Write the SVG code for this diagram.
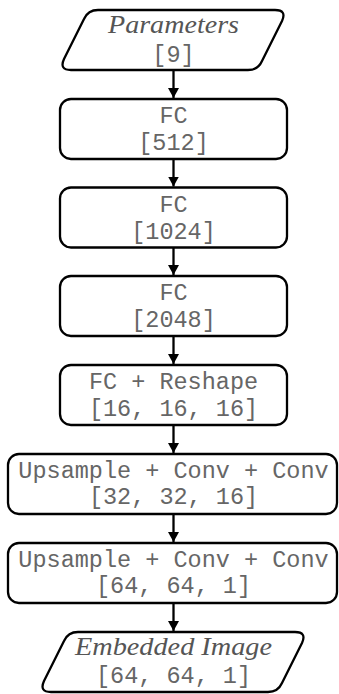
<svg xmlns="http://www.w3.org/2000/svg" width="339" height="694" viewBox="0 0 339 694">
<style>
.shape{fill:#fff;stroke:#000;stroke-width:2.3;stroke-linejoin:round}
.mono{font-family:"Liberation Mono","Courier New",monospace;font-size:23.5px;fill:#666;text-anchor:middle}
.ital{font-family:"Liberation Serif","Times New Roman",serif;font-style:italic;font-size:25px;fill:#555;text-anchor:middle}
.conn{stroke:#000;stroke-width:2.3;fill:none}
</style>
<defs>
<marker id="ah" viewBox="0 0 10 11" refX="10" refY="5.5" markerWidth="10" markerHeight="11" markerUnits="userSpaceOnUse" orient="auto">
<path d="M0,0 L10,5.5 L0,11 Z" fill="#000"/>
</marker>
</defs>
<g id="connectors">
<line class="conn" x1="173.5" y1="70" x2="173.5" y2="98" marker-end="url(#ah)"/>
<line class="conn" x1="173.5" y1="159" x2="173.5" y2="186.5" marker-end="url(#ah)"/>
<line class="conn" x1="173.5" y1="247.5" x2="173.5" y2="275" marker-end="url(#ah)"/>
<line class="conn" x1="173.5" y1="336" x2="173.5" y2="364" marker-end="url(#ah)"/>
<line class="conn" x1="173.5" y1="425" x2="173.5" y2="453" marker-end="url(#ah)"/>
<line class="conn" x1="173.5" y1="514" x2="173.5" y2="542" marker-end="url(#ah)"/>
<line class="conn" x1="173.5" y1="603" x2="173.5" y2="631" marker-end="url(#ah)"/>
</g>
<g id="params">
<path class="shape" d="M98,10 L275,10 Q287,10 282,21 L262,61 Q258,70 248,70 L71,70 Q59,70 64,59 L84,19 Q88,10 98,10 Z"/>
<text class="ital" x="173.5" y="33" textLength="131" lengthAdjust="spacingAndGlyphs">Parameters</text>
<text class="mono" x="173.5" y="62">[9]</text>
</g>
<g id="fc512">
<rect class="shape" x="60" y="99" width="227" height="60" rx="11"/>
<text class="mono" x="173.5" y="123">FC</text>
<text class="mono" x="173.5" y="150">[512]</text>
</g>
<g id="fc1024">
<rect class="shape" x="60" y="187.5" width="227" height="60" rx="11"/>
<text class="mono" x="173.5" y="211.5">FC</text>
<text class="mono" x="173.5" y="238.5">[1024]</text>
</g>
<g id="fc2048">
<rect class="shape" x="60" y="276" width="227" height="60" rx="11"/>
<text class="mono" x="173.5" y="300">FC</text>
<text class="mono" x="173.5" y="327">[2048]</text>
</g>
<g id="reshape">
<rect class="shape" x="60" y="365" width="227" height="60" rx="11"/>
<text class="mono" x="173.5" y="389">FC + Reshape</text>
<text class="mono" x="173.5" y="416">[16, 16, 16]</text>
</g>
<g id="up1">
<rect class="shape" x="8" y="454" width="329" height="60" rx="11"/>
<text class="mono" x="173.5" y="478">Upsample + Conv + Conv</text>
<text class="mono" x="173.5" y="504">[32, 32, 16]</text>
</g>
<g id="up2">
<rect class="shape" x="8" y="543" width="329" height="60" rx="11"/>
<text class="mono" x="173.5" y="567">Upsample + Conv + Conv</text>
<text class="mono" x="173.5" y="593">[64, 64, 1]</text>
</g>
<g id="embedded">
<path class="shape" d="M78,632 L295,632 Q307,632 302,643 L282,683 Q278,692 268,692 L51,692 Q39,692 44,681 L64,641 Q68,632 78,632 Z"/>
<text class="ital" x="173.5" y="655" textLength="197" lengthAdjust="spacingAndGlyphs">Embedded Image</text>
<text class="mono" x="173.5" y="683">[64, 64, 1]</text>
</g>
</svg>
